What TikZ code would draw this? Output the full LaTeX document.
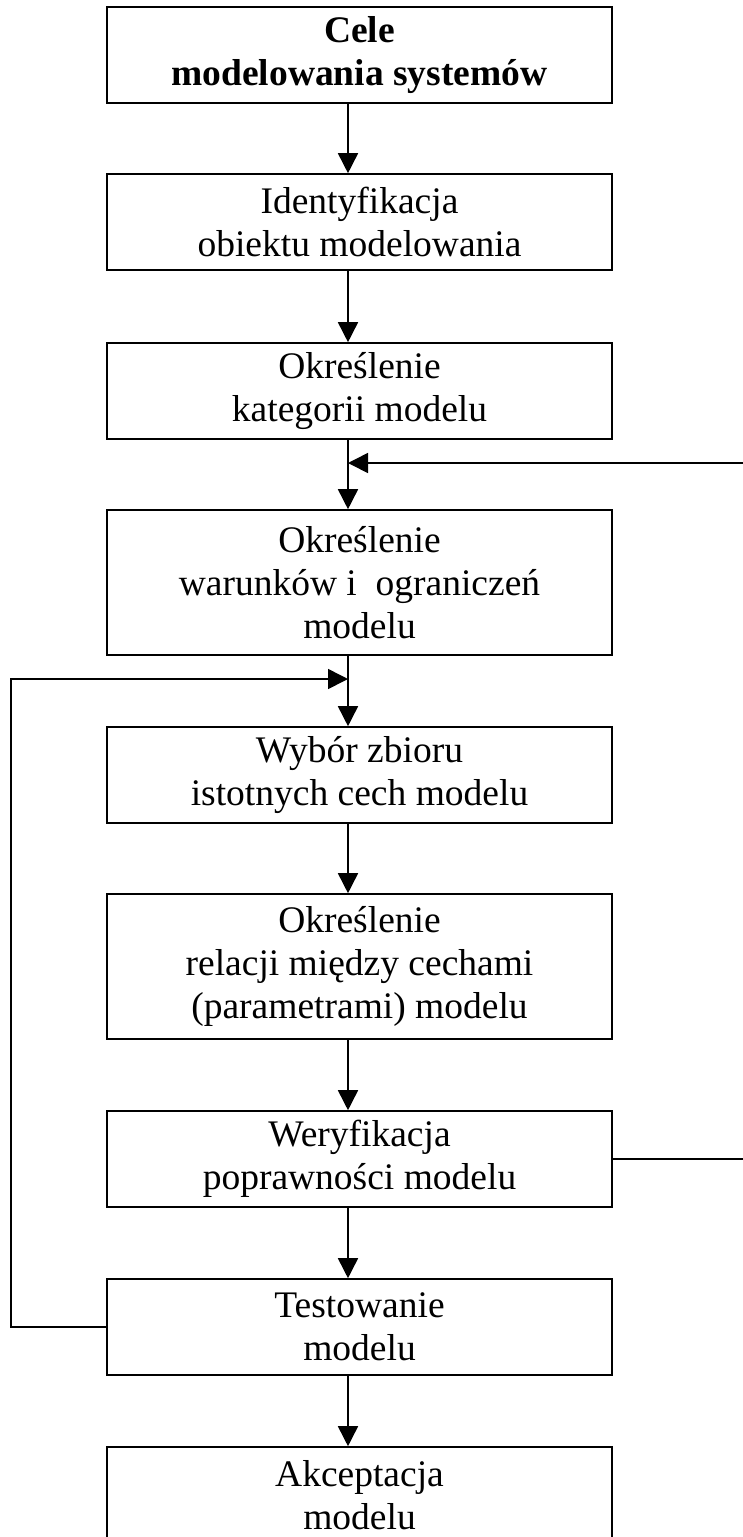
\documentclass[tikz,border=0pt]{standalone}
\usepackage{fontspec}
\setmainfont{Liberation Serif}
\usetikzlibrary{arrows.meta}
\begin{document}
\begin{tikzpicture}[x=1pt,y=-1pt,
  stagebox/.style={draw, line width=1.6pt, minimum width=505pt, inner sep=0pt,
    align=center, font=\fontsize{37.5}{43}\selectfont},
  two/.style={minimum height=96pt},
  three/.style={minimum height=145pt},
  link/.style={line width=1.6pt},
  arr/.style={link, -{Triangle[length=20pt,width=20pt]}}]
\useasboundingbox (0,0) rectangle (742,1537);
\fill[white] (0,0) rectangle (742,1537);

% stages of the modelling process
\node[stagebox,two]   (b1) at (359.5,55)    {\textbf{Cele}\\\textbf{modelowania systemów}};
\node[stagebox,two]   (b2) at (359.5,222)   {Identyfikacja\\obiektu modelowania};
\node[stagebox,two]   (b3) at (359.5,391)   {Określenie\\kategorii modelu};
\node[stagebox,three] (b4) at (359.5,582.5) {Określenie\\warunków i\ \ ograniczeń\\modelu};
\node[stagebox,two]   (b5) at (359.5,775)   {Wybór zbioru\\istotnych cech modelu};
\node[stagebox,three] (b6) at (359.5,966.5) {Określenie\\relacji między cechami\\(parametrami) modelu};
\node[stagebox,two]   (b7) at (359.5,1159)  {Weryfikacja\\poprawności modelu};
\node[stagebox,two]   (b8) at (359.5,1327)  {Testowanie\\modelu};
\node[stagebox,two]   (b9) at (359.5,1495)  {Akceptacja\\modelu};

% main flow axis and loop junctions
\coordinate (ax) at (348,0);
\coordinate (jr) at (348,463);
\coordinate (jl) at (348,679);
\coordinate (rr) at (760,0);
\coordinate (ll) at (11,0);

\draw[arr] (b1.south -| ax) -- (b2.north -| ax);
\draw[arr] (b2.south -| ax) -- (b3.north -| ax);
\draw[arr] (b3.south -| ax) -- (b4.north -| ax);
\draw[arr] (b4.south -| ax) -- (b5.north -| ax);
\draw[arr] (b5.south -| ax) -- (b6.north -| ax);
\draw[arr] (b6.south -| ax) -- (b7.north -| ax);
\draw[arr] (b7.south -| ax) -- (b8.north -| ax);
\draw[arr] (b8.south -| ax) -- (b9.north -| ax);

% feedback from verification back to the model conditions
\draw[arr] (b7.east) -- (b7.east -| rr) -- (jr -| rr) -- (jr);

% feedback from testing back to feature selection
\draw[arr] (b8.west) -- (b8.west -| ll) -- (jl -| ll) -- (jl);
\end{tikzpicture}
\end{document}
